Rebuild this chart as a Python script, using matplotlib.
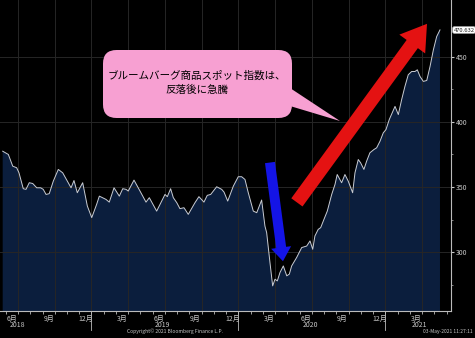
import matplotlib
matplotlib.use("Agg")
import matplotlib.pyplot as plt
import matplotlib.transforms as mtransforms
from matplotlib.patches import FancyBboxPatch, Polygon

plt.rcParams["font.family"] = ["Noto Sans CJK JP", "DejaVu Sans"]

# months since 2018-01-01 (fractional) and index level
months = [4.75, 5.21, 5.57, 5.89, 6.08, 6.43, 6.65, 6.92, 7.20, 7.53, 7.85, 8.06,
          8.29, 8.55, 8.88, 9.29, 9.65, 10.33, 10.57, 10.84, 11.28, 11.66, 12.02,
          12.42, 12.64, 13.18, 13.45, 13.84, 14.27, 14.55, 14.82, 15.00, 15.47,
          15.96, 16.45, 16.72, 17.32, 17.73, 18.00, 18.19, 18.46, 18.68, 18.96,
          19.22, 19.55, 19.90, 20.45, 20.77, 21.18, 21.45, 21.73, 22.22, 22.63,
          22.82, 23.12, 23.58, 23.98, 24.26, 24.53, 24.80, 25.21, 25.49, 25.89,
          26.16, 26.30, 26.57, 26.79, 26.98, 27.17, 27.39, 27.66, 27.94, 28.15,
          28.34, 28.75, 29.16, 29.57, 29.84, 30.06, 30.24, 30.51, 30.71, 30.98,
          31.25, 31.61, 31.88, 32.06, 32.42, 32.69, 32.96, 33.32, 33.51, 33.78,
          33.97, 34.24, 34.46, 34.73, 35.06, 35.28, 35.55, 35.82, 36.04, 36.31,
          36.78, 37.05, 37.32, 37.59, 37.86, 38.14, 38.41, 38.60, 38.82, 39.09,
          39.37, 39.64, 39.91, 40.18, 40.45]
index_level = [377.5, 375.0, 366.0, 364.8, 360.9, 348.7, 348.2, 353.3, 352.7, 349.4,
               349.4, 348.2, 344.3, 344.9, 354.5, 363.5, 360.9, 349.4, 355.0, 345.6,
               353.3, 335.4, 326.5, 336.7, 343.0, 340.5, 338.4, 349.4, 343.0, 348.7,
               348.2, 346.9, 355.3, 346.9, 338.4, 341.8, 331.5, 339.2, 344.3, 342.6,
               348.7, 341.8, 338.0, 333.4, 334.1, 329.0, 338.0, 342.6, 338.4, 343.6,
               344.3, 350.2, 348.2, 346.1, 339.2, 350.7, 357.9, 357.9, 355.8, 345.6,
               331.5, 330.3, 340.0, 320.0, 315.0, 292.0, 274.1, 279.2, 277.9, 284.4,
               289.4, 281.8, 283.1, 289.4, 295.9, 303.5, 304.7, 308.6, 302.2, 312.4,
               317.5, 318.8, 325.2, 331.5, 344.3, 352.0, 359.6, 353.3, 359.6, 354.5,
               345.6, 360.9, 371.1, 368.6, 363.5, 369.8, 376.3, 378.8, 380.1, 385.1,
               391.6, 394.1, 401.8, 411.9, 405.6, 417.1, 427.3, 436.2, 438.7, 438.7,
               440.0, 434.9, 431.1, 431.8, 442.6, 455.3, 465.5, 470.632]

month_label_pos = [5.5, 8.5, 11.5, 14.5, 17.5, 20.5, 23.5, 26.5, 29.5, 32.5, 35.5, 38.5]
month_labels = ["6月", "9月", "12月", "3月"] * 3
quarter_grid = [6, 9, 12, 15, 18, 21, 24, 27, 30, 33, 36, 39]
year_sep = [12, 24, 36]
year_label_pos = [5.96, 17.75, 29.84, 38.8]
year_labels = ["2018", "2019", "2020", "2021"]
y_major = [300, 350, 400, 450]
y_minor = [275, 325, 375, 425]

BG = "black"
FILL = "#0b1e3d"
LINE = "#c9ccd3"
GRID = "#262626"
TXT = "#c8c8c8"

fig = plt.figure(figsize=(4.75, 3.38), dpi=100, facecolor=BG)
ax = fig.add_axes([0, 27 / 338, 451 / 475, 311 / 338], facecolor=BG)

ax.fill_between(months, index_level, 0, color=FILL, lw=0, zorder=1)
ax.plot(months, index_level, color=LINE, lw=0.7, zorder=3)

ax.set_xlim(4.53, 41.35)
ax.set_ylim(254.8, 493.6)

for g in quarter_grid:
    ax.axvline(g, color=GRID, lw=0.7, zorder=2)
for g in y_major:
    ax.axhline(g, color=GRID, lw=0.7, zorder=2)

for s in ["top", "left"]:
    ax.spines[s].set_visible(False)
ax.spines["bottom"].set_color("#bbbbbb")
ax.spines["right"].set_color("#bbbbbb")
ax.spines["bottom"].set_linewidth(0.8)
ax.spines["right"].set_linewidth(0.8)

ax.set_xticks(month_label_pos)
ax.set_xticklabels(month_labels)
ax.set_xticks(range(5, 42), minor=True)
ax.tick_params(axis="x", which="major", length=0, pad=2.5, labelsize=5, colors=TXT)
ax.tick_params(axis="x", which="minor", length=2, width=0.6, color="#bbbbbb")

ax.yaxis.tick_right()
ax.set_yticks(y_major)
ax.set_yticks(y_minor, minor=True)
ax.tick_params(axis="y", which="major", length=2, width=0.8, pad=1.5,
               labelsize=5, colors=TXT)
ax.tick_params(axis="y", which="minor", length=1.5, width=0.6, color="#999999")

trans = mtransforms.blended_transform_factory(ax.transData, ax.transAxes)
for s in year_sep:
    ax.plot([s, s], [0, -0.062], transform=trans, color="#bbbbbb", lw=0.6, clip_on=False)
for p, lab in zip(year_label_pos, year_labels):
    ax.text(p, -0.045, lab, transform=trans, ha="center", va="center",
            fontsize=5, color=TXT)

fig.text(175 / 475, 1 - 331 / 338, "Copyright\u00a9 2021 Bloomberg Finance L.P.",
         ha="center", va="center", fontsize=3.6, color=TXT)
fig.text(473 / 475, 1 - 331 / 338, "03-May-2021 11:27:11",
         ha="right", va="center", fontsize=3.5, color=TXT)

# last value tag
fig.text(453.5 / 475, 1 - 30 / 338, f"{index_level[-1]:.3f}", ha="left", va="center",
         fontsize=4.2, color="#222222",
         bbox=dict(boxstyle="round,pad=0.15,rounding_size=0.3", fc="white", ec="#bbbbbb", lw=0.4))

# arrows
ax.annotate("", xy=(27.63, 293.0), xytext=(26.57, 368.8),
            arrowprops=dict(arrowstyle="simple,head_length=1.0,head_width=1.45,tail_width=0.72",
                            mutation_scale=10, color="#1414e6", lw=0,
                            shrinkA=0, shrinkB=0), zorder=5)
ax.annotate("", xy=(39.39, 475.3), xytext=(28.77, 338.2),
            arrowprops=dict(arrowstyle="simple,head_length=1.8,head_width=2.3,tail_width=1.0",
                            mutation_scale=10, color="#e41212", lw=0,
                            shrinkA=0, shrinkB=0), zorder=5)

# callout
PINK = "#f7a0d2"
box = FancyBboxPatch((103 / 451, 1 - 118 / 311), 189 / 451, 68 / 311,
                     boxstyle="round,pad=0,rounding_size=0.03",
                     mutation_aspect=451 / 311,
                     transform=ax.transAxes, fc=PINK, ec="none", zorder=6)
ax.add_patch(box)
tail = Polygon([(290 / 451, 1 - 88 / 311), (340 / 451, 1 - 121 / 311),
                (290 / 451, 1 - 106 / 311)], closed=True,
               transform=ax.transAxes, fc=PINK, ec="none", zorder=6)
ax.add_patch(tail)
ax.text(197 / 451, 1 - 83 / 311, "ブルームバーグ商品スポット指数は、\n反落後に急騰",
        transform=ax.transAxes, ha="center", va="center", fontsize=7.6,
        color="black", linespacing=1.45, zorder=7)

fig.savefig("out.png", dpi=100, facecolor=BG)
